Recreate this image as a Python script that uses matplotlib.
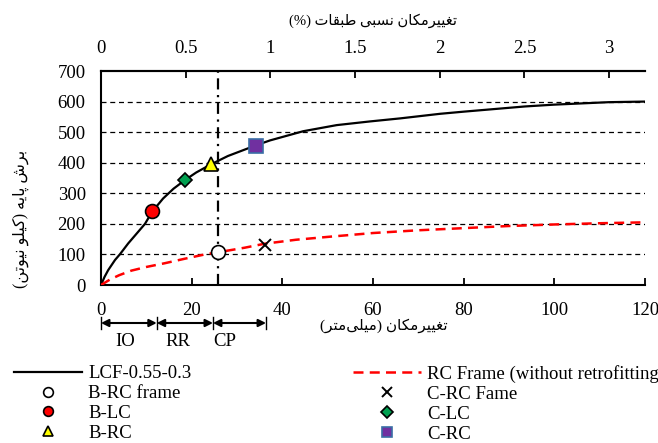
import numpy as np
import matplotlib
matplotlib.use('Agg')
from matplotlib import pyplot as plt
from matplotlib.lines import Line2D

plt.rcParams['font.family'] = ['Liberation Serif', 'DejaVu Sans']
plt.rcParams['font.size'] = 13.5

# ---- data ----
lcf_disp = [0, 0.8, 1.6, 3.1, 4.2, 6, 8.2, 9.7, 11.3, 13.7, 16, 18.5, 21, 24.3,
            28, 34.2, 37.3, 44.6, 52, 59.3, 66, 74.8, 80, 93.5, 100, 112, 120]
lcf_shear = [0, 27, 49, 82, 101, 136, 174, 200, 240, 283, 315, 343, 368, 395,
             422, 457, 473, 503, 523, 535, 545, 560, 567, 584, 590, 598, 600]

rc_disp = [0, 2, 4, 6.7, 10, 14, 18.5, 22.9, 25.8, 31.7, 36.1, 43, 50.5, 60,
           70, 80, 90, 100, 110, 120]
rc_shear = [0, 18, 32, 47, 59, 71, 86, 100, 107, 122, 135, 148, 158, 170,
            179, 186, 193, 198, 202, 205]

# performance points
pt_names = ['B-RC frame', 'B-LC', 'B-RC', 'C-RC Fame', 'C-LC', 'C-RC']
pt_disp = [25.8, 11.3, 24.3, 36.1, 18.5, 34.2]
pt_shear = [107, 242, 395, 131, 343, 454]

cp_line = 25.9              # vertical dash-dot line (mm)
perf_bounds = [0, 12.3, 24.7, 36.4]
perf_levels = ['IO', 'RR', 'CP']
perf_label_x = [5.3, 17.0, 27.4]

mm_per_pct = 37.36          # storey height factor for the drift axis

x_ticks = [0, 20, 40, 60, 80, 100, 120]
y_ticks = [0, 100, 200, 300, 400, 500, 600, 700]
top_ticks = [0, 0.5, 1, 1.5, 2, 2.5, 3]

# ---- minimal persian shaping (matplotlib has no bidi/shaping) ----
FORMS = {
    'ا': (0xFE8D, 0xFE8E, None, None),
    'ب': (0xFE8F, 0xFE90, 0xFE91, 0xFE92),
    'پ': (0xFB56, 0xFB57, 0xFB58, 0xFB59),
    'ت': (0xFE95, 0xFE96, 0xFE97, 0xFE98),
    'ر': (0xFEAD, 0xFEAE, None, None),
    'س': (0xFEB1, 0xFEB2, 0xFEB3, 0xFEB4),
    'ش': (0xFEB5, 0xFEB6, 0xFEB7, 0xFEB8),
    'ط': (0xFEC1, 0xFEC2, 0xFEC3, 0xFEC4),
    'غ': (0xFECD, 0xFECE, 0xFECF, 0xFED0),
    'ق': (0xFED5, 0xFED6, 0xFED7, 0xFED8),
    'ک': (0xFB8E, 0xFB8F, 0xFB90, 0xFB91),
    'ل': (0xFEDD, 0xFEDE, 0xFEDF, 0xFEE0),
    'م': (0xFEE1, 0xFEE2, 0xFEE3, 0xFEE4),
    'ن': (0xFEE5, 0xFEE6, 0xFEE7, 0xFEE8),
    'و': (0xFEED, 0xFEEE, None, None),
    'ه': (0xFEE9, 0xFEEA, 0xFEEB, 0xFEEC),
    'ی': (0xFBFC, 0xFBFD, 0xFBFE, 0xFBFF),
}


def rtl(text):
    out = []
    for i, c in enumerate(text):
        if c == '\u200c':
            continue
        if c not in FORMS:
            out.append(c)
            continue
        prev = text[i - 1] if i > 0 else None
        nxt = text[i + 1] if i + 1 < len(text) else None
        join_prev = prev in FORMS and FORMS[prev][2] is not None
        join_next = nxt in FORMS and FORMS[c][2] is not None
        iso, fin, ini, med = FORMS[c]
        if join_prev and join_next:
            g = med
        elif join_prev:
            g = fin
        elif join_next:
            g = ini
        else:
            g = iso
        out.append(chr(g))
    return ''.join(out)[::-1]


top_label = '(%) ' + rtl('تغییرمکان نسبی طبقات')
bottom_label = '(' + rtl('میلی\u200cمتر') + ') ' + rtl('تغییرمکان')
y_label = '(' + rtl('کیلو نیوتن') + ') ' + rtl('برش پایه')
fa = ['Liberation Serif', 'DejaVu Sans']

# ---- figure ----
fig = plt.figure(figsize=(6.58, 4.43), dpi=100)
ax = fig.add_axes([101 / 658, 1 - 285 / 443, 544 / 658, 214 / 443])

for y in y_ticks[1:-1]:
    ax.axhline(y, color='black', lw=0.9, ls=(0, (4, 3)), zorder=1)
ax.axvline(cp_line, color='black', lw=1.6, ls=(0, (5, 2.5, 1, 2.5)), zorder=2)

ax.plot(lcf_disp, lcf_shear, color='black', lw=1.6, zorder=3)
ax.plot(rc_disp, rc_shear, color='red', lw=1.8, ls=(0, (4, 2.5)), zorder=3)

styles = [
    dict(marker='o', mfc='white', mec='black', ms=10, mew=1.2),
    dict(marker='o', mfc='red', mec='black', ms=10, mew=1.2),
    dict(marker='^', mfc='yellow', mec='black', ms=10, mew=1.2),
    dict(marker='x', color='black', ms=9, mew=1.4),
    dict(marker='D', mfc='#00a050', mec='black', ms=7.5, mew=1.2),
    dict(marker='s', mfc='#7030a0', mec='#3a6ea5', ms=10, mew=1.2),
]
for name, xd, yd, st in zip(pt_names, pt_disp, pt_shear, styles):
    ax.plot([xd], [yd], ls='none', zorder=5, **st)

ax.set_xlim(0, 120)
ax.set_ylim(0, 700)
ax.set_xticks(x_ticks)
ax.set_yticks(y_ticks)
ax.spines['right'].set_visible(False)
for s in ['left', 'bottom', 'top']:
    ax.spines[s].set_linewidth(1.5)
ax.tick_params(axis='x', direction='in', length=5, width=1.3, pad=12)
ax.tick_params(axis='y', length=0, pad=11)

top = ax.secondary_xaxis('top', functions=(lambda v: v / mm_per_pct,
                                           lambda v: v * mm_per_pct))
top.set_xticks(top_ticks)
top.set_xticklabels([f'{t:g}' for t in top_ticks])
top.spines['top'].set_linewidth(1.5)
top.tick_params(direction='in', length=5, width=1.3, pad=10)
top.set_xlabel(top_label, family=fa, fontsize=10.5, labelpad=11)

ax.set_ylabel(y_label, family=fa, fontsize=11.5)
ax.yaxis.set_label_coords((29 - 101) / 544, (285 - 219) / 214)
fig.text(384 / 658, 1 - 326 / 443, bottom_label, ha='center', va='center',
         family=fa, fontsize=11)

# performance level arrows under the axis
arr_y = (285 - 323) / 214
bar_h = 6 / 214
for a, b in zip(perf_bounds[:-1], perf_bounds[1:]):
    ax.annotate('', xy=(b, arr_y), xytext=(a, arr_y),
                xycoords=('data', 'axes fraction'),
                arrowprops=dict(arrowstyle='<|-|>', color='black', lw=1.5,
                                mutation_scale=11, shrinkA=0, shrinkB=0),
                annotation_clip=False)
for xb in perf_bounds:
    ax.plot([xb, xb], [arr_y - bar_h, arr_y + bar_h], color='black', lw=1.0,
            transform=ax.get_xaxis_transform(), clip_on=False)
for lab, xl in zip(perf_levels, perf_label_x):
    ax.text(xl, (285 - 341) / 214, lab, ha='center', va='center',
            transform=ax.get_xaxis_transform())


# legends
def handle(st, **kw):
    d = dict(st)
    d.update(kw)
    return Line2D([], [], ls='none', **d)


h_left = [Line2D([], [], color='black', lw=1.6),
          handle(styles[0], ms=7), handle(styles[1], ms=7),
          handle(styles[2], ms=7)]
l_left = ['LCF-0.55-0.3', pt_names[0], pt_names[1], pt_names[2]]
h_right = [Line2D([], [], color='red', lw=1.8, ls=(0, (4, 2.5))),
           handle(styles[3], ms=7), handle(styles[4], ms=6),
           handle(styles[5], ms=7)]
l_right = ['RC Frame (without retrofitting', pt_names[3], pt_names[4], pt_names[5]]

leg_kw = dict(frameon=False, borderpad=0, borderaxespad=0, handlelength=3.63,
              handletextpad=0.32, labelspacing=0.15, fontsize=13.5,
              loc='upper left')
fig.legend(h_left, l_left, bbox_to_anchor=(14 / 658, 1 - 365 / 443), **leg_kw)
fig.legend(h_right, l_right, bbox_to_anchor=(353 / 658, 1 - 365 / 443), **leg_kw)

fig.savefig('out.png', dpi=100)
